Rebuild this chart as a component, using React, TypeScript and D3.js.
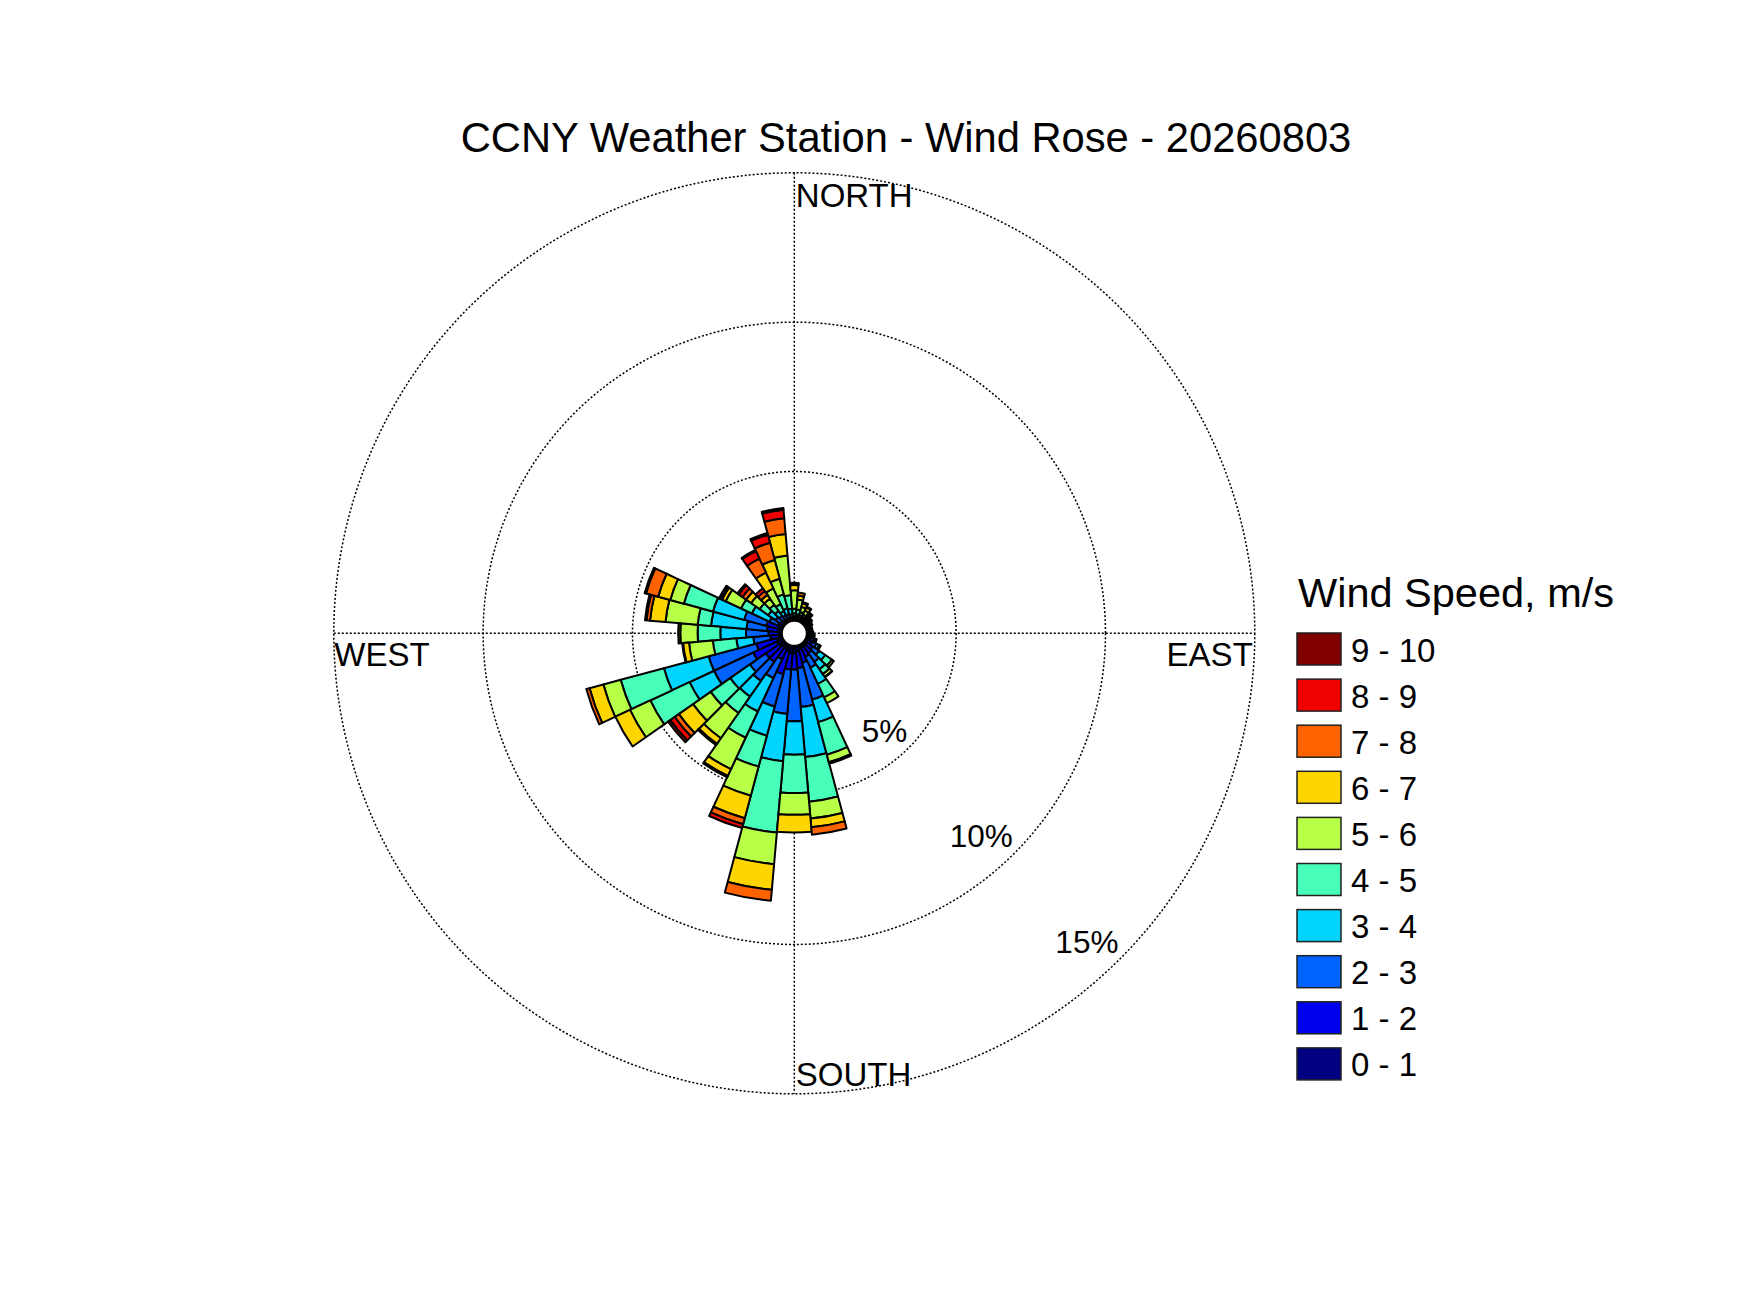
import * as d3 from 'd3'

// wind direction (deg, where the wind comes from) and speed classes
const directions = [
  0, 10, 20, 30, 40, 50, 60, 70, 80, 90, 100, 110,
  120, 130, 140, 150, 160, 170, 180, 190, 200, 210, 220, 230,
  240, 250, 260, 270, 280, 290, 300, 310, 320, 330, 340, 350,
]
const speedLabels = ['0 - 1', '1 - 2', '2 - 3', '3 - 4', '4 - 5', '5 - 6', '6 - 7', '7 - 8', '8 - 9', '9 - 10']

// frequency (%) of each speed class per direction
const speed0to1 = [0.04, 0.04, 0.04, 0.04, 0.04, 0.04, 0.04, 0.04, 0.04, 0.05, 0.05, 0.06, 0.08, 0.1, 0.1, 0.12, 0.15, 0.2, 0.24, 0.25, 0.2, 0.15, 0.15, 0.2, 0.22, 0.19, 0.1, 0.12, 0.12, 0.12, 0.05, 0.05, 0.05, 0.05, 0.05, 0.05]
const speed1to2 = [0.06, 0.06, 0.06, 0.06, 0.06, 0.05, 0.05, 0.05, 0.05, 0.05, 0.07, 0.1, 0.17, 0.25, 0.3, 0.33, 0.45, 0.55, 0.55, 0.55, 0.8, 0.39, 0.6, 0.55, 0.88, 0.71, 0.29, 0.33, 0.38, 0.43, 0.15, 0.1, 0.09, 0.07, 0.07, 0.07]
const speed2to3 = [0.05, 0.05, 0.05, 0.05, 0.04, 0.04, 0.04, 0.04, 0.04, 0.05, 0.08, 0.1, 0.15, 0.25, 0.35, 0.4, 1.28, 1.31, 1.74, 1.49, 1.12, 0.7, 0.78, 0.65, 1.45, 1.65, 0.57, 0.75, 0.69, 0.77, 0.3, 0.2, 0.16, 0.13, 0.13, 0.1]
const speed3to4 = [0.1, 0.07, 0.07, 0.05, 0.05, 0.04, 0.04, 0.03, 0.04, 0.07, 0.07, 0.07, 0.1, 0.25, 0.3, 0.6, 0.78, 1.68, 1.12, 1.59, 1.01, 1.23, 0.64, 0.8, 0.9, 1.55, 0.57, 0.86, 1.19, 1.08, 0.65, 0.3, 0.2, 0.15, 0.2, 0.19]
const speed4to5 = [0.15, 0.16, 0.1, 0.08, 0.06, 0.05, 0.04, 0.04, 0.03, 0, 0, 0.03, 0.06, 0.27, 0.2, 0.5, 1.13, 1.5, 1.28, 2.4, 1.07, 0.97, 0.67, 0.8, 1.45, 1.5, 0.79, 0.76, 0.45, 1.01, 0.4, 0.35, 0.25, 0.26, 0.48, 0.46]
const speed5to6 = [0.62, 0.34, 0.18, 0.14, 0.08, 0.05, 0.04, 0, 0, 0, 0, 0, 0, 0.08, 0.11, 0.21, 0.26, 0.57, 0.73, 1.06, 1.01, 1.16, 1.03, 0.72, 0.75, 0.6, 0.8, 0.58, 1.08, 0.47, 0.57, 0.35, 0.25, 0.58, 0.54, 1.33]
const speed6to7 = [0.18, 0.13, 0.12, 0.11, 0.07, 0.04, 0, 0, 0, 0, 0, 0, 0, 0, 0.02, 0, 0.05, 0.29, 0.59, 0.86, 0.78, 0.25, 0.23, 0.58, 0.54, 0.48, 0.2, 0.07, 0.52, 0.42, 0.13, 0.2, 0.15, 0.58, 0.65, 0.72]
const speed7to8 = [0.04, 0.1, 0.05, 0.04, 0.04, 0, 0, 0, 0, 0, 0, 0, 0, 0, 0, 0, 0, 0.25, 0, 0.37, 0.21, 0.05, 0.05, 0.17, 0, 0.11, 0.03, 0, 0.12, 0.42, 0.07, 0.15, 0.15, 0.52, 0.6, 0.53]
const speed8to9 = [0.03, 0, 0, 0, 0, 0, 0, 0, 0, 0, 0, 0, 0, 0, 0, 0, 0, 0, 0, 0, 0.13, 0, 0, 0.18, 0, 0, 0, 0, 0.05, 0.05, 0.04, 0.15, 0.12, 0.28, 0.28, 0.28]
const speed9to10 = [0, 0, 0, 0, 0, 0, 0, 0, 0, 0, 0, 0, 0, 0, 0, 0, 0, 0, 0, 0, 0, 0, 0, 0.09, 0, 0, 0, 0, 0, 0, 0, 0.06, 0, 0.04, 0.06, 0.06]

const speedSeries = [speed0to1, speed1to2, speed2to3, speed3to4, speed4to5, speed5to6, speed6to7, speed7to8, speed8to9, speed9to10]

const ringValues = [5, 10, 15]

const FONT = '"Liberation Sans", Arial, Helvetica, sans-serif'
const CX = 794.3
const CY = 633.3

// MATLAB-style jet colormap
const jet = (t: number) => {
  const c = (v: number) => Math.max(0, Math.min(1, v)) * 255
  return d3.rgb(c(1.5 - Math.abs(4 * t - 3)), c(1.5 - Math.abs(4 * t - 2)), c(1.5 - Math.abs(4 * t - 1))).formatHex()
}

export default function App() {
  const rScale = d3.scaleLinear().domain([0, 15]).range([12.5, 460.5])
  const color = d3.scaleOrdinal<string, string>()
    .domain(speedLabels)
    .range(speedLabels.map((_, i) => jet(i / (speedLabels.length - 1))))

  const rows = directions.map((dir, i) => {
    const row: any = { dir }
    speedLabels.forEach((key, k) => { row[key] = speedSeries[k][i] })
    return row
  })
  const series = d3.stack<any, string>().keys(speedLabels)(rows)

  const arc = d3.arc<any>()
  const rad = (deg: number) => (deg * Math.PI) / 180
  const R = rScale(15)

  const legendX = 1297
  const legendY = 633
  const legendStep = 46.1

  return (
    <svg
      width={1750}
      height={1313}
      style={{ position: 'absolute', left: 0, top: 0, background: '#fff' }}
      fontFamily={FONT}
    >
      <rect width={1750} height={1313} fill="#fff" />
      <text x={906} y={152} fontSize={41.7} textAnchor="middle">
        CCNY Weather Station - Wind Rose - 20260803
      </text>

      {/* grid */}
      <g fill="none" stroke="#000" strokeWidth={1.5} strokeDasharray="2 2">
        {ringValues.map(v => (
          <circle key={v} cx={CX} cy={CY} r={rScale(v)} />
        ))}
        <line x1={CX - R} x2={CX + R} y1={CY} y2={CY} />
        <line x1={CX} x2={CX} y1={CY - R} y2={CY + R} />
      </g>

      {/* petals */}
      <g transform={`translate(${CX},${CY})`} stroke="#000" strokeWidth={2} strokeLinejoin="round">
        {series.map(s => (
          <g key={s.key} fill={color(s.key)}>
            {s.map((d, i) => {
              if (d[1] - d[0] <= 0) return null
              const dir = directions[i]
              return (
                <path
                  key={dir}
                  d={arc({
                    innerRadius: rScale(d[0]),
                    outerRadius: rScale(d[1]),
                    startAngle: rad(dir - 5),
                    endAngle: rad(dir + 5),
                  }) || ''}
                />
              )
            })}
          </g>
        ))}
        <circle r={rScale(0)} fill="#fff" stroke="#000" strokeWidth={2} />
      </g>

      {/* compass labels */}
      <g fontSize={33}>
        <text x={CX + 1.5} y={CY - R + 34}>NORTH</text>
        <text x={CX + 1.5} y={CY + R - 8}>SOUTH</text>
        <text x={CX - R + 0.5} y={CY + 33}>WEST</text>
        <text x={CX + R - 2} y={CY + 33} textAnchor="end">EAST</text>
      </g>

      {/* ring labels */}
      <g fontSize={31.5} textAnchor="end">
        {ringValues.map(v => (
          <text
            key={v}
            x={CX + rScale(v) * Math.SQRT1_2 - 1.5}
            y={CY + rScale(v) * Math.SQRT1_2 - 6}
          >
            {v}%
          </text>
        ))}
      </g>

      {/* legend */}
      <text x={legendX + 1} y={607} fontSize={41.5}>Wind Speed, m/s</text>
      {speedLabels.slice().reverse().map((label, i) => (
        <g key={label} transform={`translate(${legendX},${legendY + i * legendStep})`}>
          <rect width={44} height={32} fill={color(label)} stroke="#222" strokeWidth={1.5} />
          <text x={54} y={28.5} fontSize={33}>{label}</text>
        </g>
      ))}
    </svg>
  )
}
